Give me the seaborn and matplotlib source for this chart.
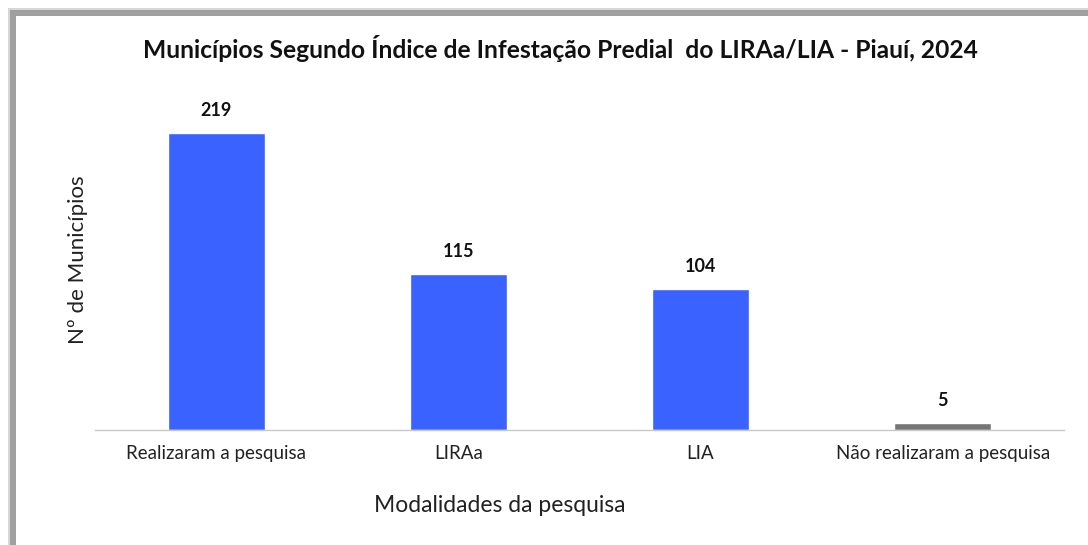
import matplotlib
matplotlib.use('Agg')
import matplotlib.pyplot as plt
from matplotlib.patches import Rectangle
import pandas as pd
import seaborn as sns

categorias = ['Realizaram a pesquisa', 'LIRAa', 'LIA', 'Não realizaram a pesquisa']
municipios = [219, 115, 104, 5]
cores = ['#3a62ff', '#3a62ff', '#3a62ff', '#767676']

df = pd.DataFrame({'categoria': categorias, 'n': municipios})

sns.set_style('white')
plt.rcParams['font.family'] = ['Lato', 'DejaVu Sans']

fig = plt.figure(figsize=(10.88, 5.45), dpi=100)

# moldura com sombra (cinza à esquerda e no topo)
W, H = 1088, 545
fig.patches.append(Rectangle((8 / W, 0), 1, 1 - 8 / H, transform=fig.transFigure,
                             facecolor='#d6d6d6', edgecolor='none', zorder=-30))
fig.patches.append(Rectangle((10 / W, 0), 1, 1 - 10 / H, transform=fig.transFigure,
                             facecolor='#a0a0a0', edgecolor='none', zorder=-20))
fig.patches.append(Rectangle((16 / W, 0), 1, 1 - 16 / H, transform=fig.transFigure,
                             facecolor='white', edgecolor='none', zorder=-10))

ax = fig.add_axes([95 / W, (H - 430) / H, 969 / W, 330 / H])
ax.set_zorder(5)
ax.patch.set_alpha(0)

sns.barplot(data=df, x='categoria', y='n', hue='categoria', palette=cores,
            width=0.4, legend=False, ax=ax, saturation=1)

ax.set_xlim(-0.5, 3.5)
ax.set_ylim(0, 243)

for i, v in enumerate(municipios):
    ax.annotate(str(v), (i, v), xytext=(0, 10), textcoords='offset points',
                ha='center', va='bottom', fontsize=13, fontweight='bold', color='#111111')

for s in ['top', 'right', 'left']:
    ax.spines[s].set_visible(False)
ax.spines['bottom'].set_color('#c8c8c8')
ax.spines['bottom'].set_linewidth(1)
ax.set_yticks([])
ax.tick_params(axis='x', length=0, pad=11, labelsize=13.5, labelcolor='#222222')

ax.set_xlabel('Modalidades da pesquisa', fontsize=16.5, color='#222222', va='center')
ax.xaxis.set_label_coords((500 - 95) / 969, (430 - 506) / 330)
ax.set_ylabel('Nº de Municípios', fontsize=16, color='#222222', va='center')
ax.yaxis.set_label_coords((78 - 95) / 969, (430 - 260) / 330)

fig.text(560 / W, 1 - 48 / H, 'Municípios Segundo Índice de Infestação Predial  do LIRAa/LIA - Piauí, 2024',
         ha='center', va='center', fontsize=17.7, fontweight='bold', color='#111111', zorder=5)

fig.savefig('out.png', dpi=100)
